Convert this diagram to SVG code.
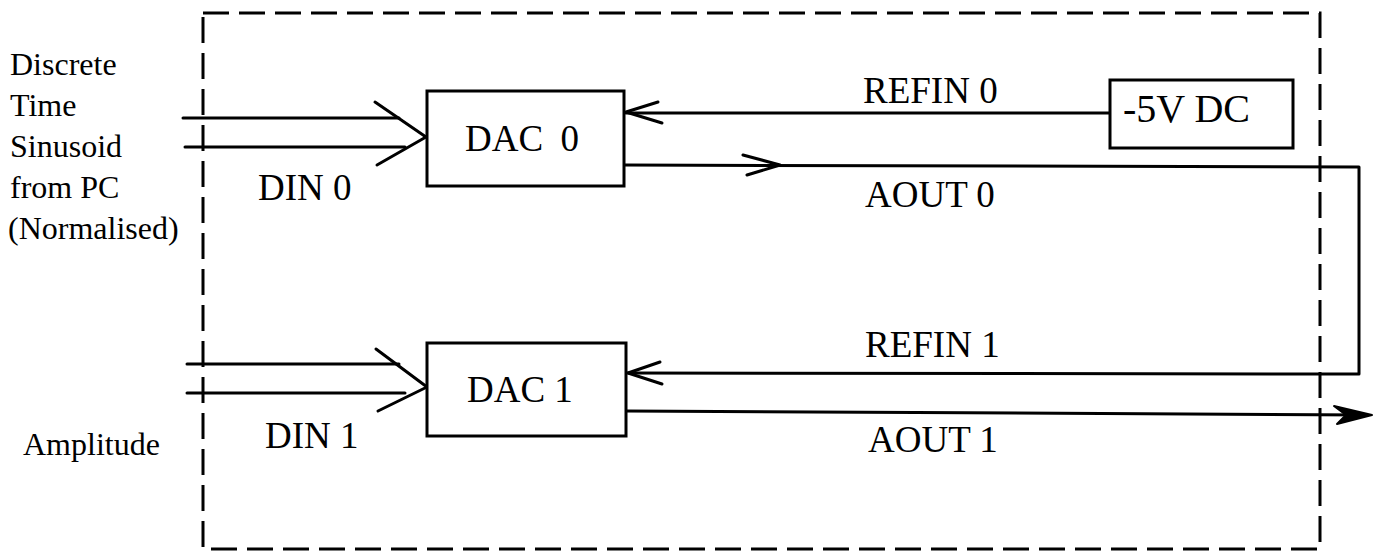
<svg xmlns="http://www.w3.org/2000/svg" width="1385" height="560" viewBox="0 0 1385 560">
  <style>
    .t { font-family: "Liberation Serif", "Times New Roman", serif; fill: #000; }
    .lbl { font-size: 32px; }
    .sig { font-size: 37px; }
    .box { fill: #fff; stroke: #000; stroke-width: 3; }
    .ln { fill: none; stroke: #000; stroke-width: 3; stroke-linecap: round; stroke-linejoin: round; }
    .dash { fill: none; stroke: #000; stroke-width: 3; stroke-dasharray: 26 10; }
  </style>
  <rect width="1385" height="560" fill="#fff"/>

  <g id="boundary">
    <rect class="dash" x="203" y="13" width="1117" height="536"/>
  </g>

  <g id="inputs-labels">
    <text class="t lbl" x="10" y="75">Discrete</text>
    <text class="t lbl" x="10" y="116">Time</text>
    <text class="t lbl" x="10" y="157">Sinusoid</text>
    <text class="t lbl" x="10" y="198">from PC</text>
    <text class="t lbl" x="8" y="239">(Normalised)</text>
    <text class="t lbl" x="23" y="455">Amplitude</text>
  </g>

  <g id="connectors">
    <!-- DIN 0 -->
    <line class="ln" x1="183" y1="118" x2="399" y2="118"/>
    <line class="ln" x1="185" y1="147" x2="405" y2="147"/>
    <polyline class="ln" points="375,102 426,137 377,165"/>
    <!-- DIN 1 -->
    <line class="ln" x1="187" y1="364" x2="399" y2="364"/>
    <line class="ln" x1="187" y1="393" x2="405" y2="393"/>
    <polyline class="ln" points="376,349 427,387 378,411"/>
    <!-- REFIN 0 -->
    <line class="ln" x1="626" y1="113" x2="1110" y2="113"/>
    <polyline class="ln" points="658,102 626,112 662,123"/>
    <!-- AOUT 0 to REFIN 1 -->
    <polyline class="ln" points="624,165 1359,167 1359,374 628,373"/>
    <polyline class="ln" points="743,155 780,165 747,175"/>
    <polyline class="ln" points="660,362 628,373 662,384"/>
    <!-- AOUT 1 -->
    <line class="ln" x1="626" y1="411" x2="1366" y2="415"/>
    <polygon points="1334,406 1372,415 1337,424 1346,415" fill="#000" stroke="#000" stroke-width="2" stroke-linejoin="round"/>
  </g>

  <g id="dac0">
    <rect class="box" x="427" y="91" width="197" height="95"/>
    <text class="t sig" x="465" y="151" font-size="38">DAC <tspan dx="8">0</tspan></text>
  </g>

  <g id="dac1">
    <rect class="box" x="427" y="343" width="199" height="93"/>
    <text class="t sig" x="467" y="402">DAC 1</text>
  </g>

  <g id="vref">
    <rect class="box" x="1110" y="80" width="183" height="68"/>
    <text class="t" x="1123" y="122" font-size="40">-5V DC</text>
  </g>

  <g id="signal-labels">
    <text class="t sig" x="258" y="200" font-size="39">DIN 0</text>
    <text class="t sig" x="265" y="448">DIN 1</text>
    <text class="t sig" x="863" y="103">REFIN 0</text>
    <text class="t sig" x="865" y="207">AOUT 0</text>
    <text class="t sig" x="865" y="357">REFIN 1</text>
    <text class="t sig" x="868" y="452">AOUT 1</text>
  </g>
</svg>
